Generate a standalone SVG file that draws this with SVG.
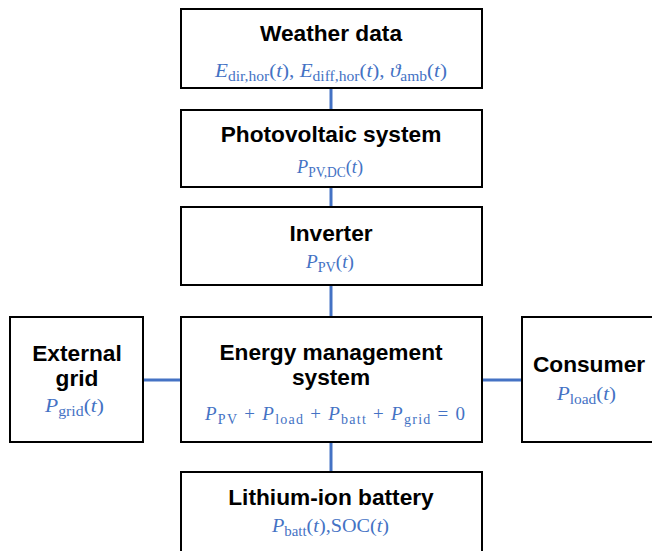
<svg xmlns="http://www.w3.org/2000/svg" width="652" height="551" viewBox="0 0 652 551">
<style>
.box{fill:#fff;stroke:#000;stroke-width:2}
.t{font-family:"Liberation Sans",Arial,sans-serif;font-weight:bold;font-size:22.7px;fill:#000;text-anchor:middle}
.m{font-family:"Liberation Serif","DejaVu Serif",serif;font-size:19px;fill:#4472C4;text-anchor:middle}
.i{font-style:italic}
.s{font-size:14px}
.c{stroke:#4472C4;stroke-width:3;fill:none}
</style>
<rect width="652" height="551" fill="#fff"/>
<g id="connectors">
<line class="c" x1="331" y1="88" x2="331" y2="110"/>
<line class="c" x1="331" y1="187" x2="331" y2="207"/>
<line class="c" x1="331" y1="285" x2="331" y2="317"/>
<line class="c" x1="331" y1="442" x2="331" y2="472"/>
<line class="c" x1="143" y1="380" x2="181" y2="380"/>
<line class="c" x1="482" y1="380" x2="522" y2="380"/>
</g>
<g id="weather">
<rect class="box" x="181" y="9" width="301" height="79"/>
<text class="t" x="331" y="41">Weather data</text>
<text class="m" x="331" y="77" textLength="232" lengthAdjust="spacingAndGlyphs"><tspan class="i">E</tspan><tspan class="s" dy="4">dir,hor</tspan><tspan dy="-4">(</tspan><tspan class="i">t</tspan>), <tspan class="i">E</tspan><tspan class="s" dy="4">diff,hor</tspan><tspan dy="-4">(</tspan><tspan class="i">t</tspan>), <tspan class="i">ϑ</tspan><tspan class="s" dy="4">amb</tspan><tspan dy="-4">(</tspan><tspan class="i">t</tspan>)</text>
</g>
<g id="pv">
<rect class="box" x="181" y="110" width="301" height="77"/>
<text class="t" x="331" y="142">Photovoltaic system</text>
<text class="m" x="330" y="173" textLength="66" lengthAdjust="spacingAndGlyphs"><tspan class="i">P</tspan><tspan class="s" dy="4">PV,DC</tspan><tspan dy="-4">(</tspan><tspan class="i">t</tspan>)</text>
</g>
<g id="inverter">
<rect class="box" x="181" y="207" width="301" height="78"/>
<text class="t" x="331" y="241">Inverter</text>
<text class="m" x="330" y="268" textLength="48" lengthAdjust="spacingAndGlyphs"><tspan class="i">P</tspan><tspan class="s" dy="4">PV</tspan><tspan dy="-4">(</tspan><tspan class="i">t</tspan>)</text>
</g>
<g id="ems">
<rect class="box" x="181" y="317" width="301" height="125"/>
<text class="t" x="331" y="360">Energy management</text>
<text class="t" x="331" y="385">system</text>
<text class="m" x="335" y="420" textLength="260" lengthAdjust="spacing"><tspan class="i">P</tspan><tspan class="s" dy="4">PV</tspan><tspan dy="-4">  +  </tspan><tspan class="i">P</tspan><tspan class="s" dy="4">load</tspan><tspan dy="-4">  +  </tspan><tspan class="i">P</tspan><tspan class="s" dy="4">batt</tspan><tspan dy="-4">  +  </tspan><tspan class="i">P</tspan><tspan class="s" dy="4">grid</tspan><tspan dy="-4"> = 0</tspan></text>
</g>
<g id="grid">
<rect class="box" x="10" y="317" width="133" height="125"/>
<text class="t" x="77" y="361">External</text>
<text class="t" x="77" y="386">grid</text>
<text class="m" x="74.5" y="412" textLength="59" lengthAdjust="spacingAndGlyphs"><tspan class="i">P</tspan><tspan class="s" dy="4">grid</tspan><tspan dy="-4">(</tspan><tspan class="i">t</tspan>)</text>
</g>
<g id="consumer">
<rect class="box" x="522" y="317" width="140" height="125"/>
<text class="t" x="589" y="372">Consumer</text>
<text class="m" x="586.5" y="400" textLength="59" lengthAdjust="spacingAndGlyphs"><tspan class="i">P</tspan><tspan class="s" dy="4">load</tspan><tspan dy="-4">(</tspan><tspan class="i">t</tspan>)</text>
</g>
<g id="battery">
<rect class="box" x="181" y="472" width="301" height="90"/>
<text class="t" x="331" y="505">Lithium-ion battery</text>
<text class="m" x="330.5" y="532" textLength="117" lengthAdjust="spacingAndGlyphs"><tspan class="i">P</tspan><tspan class="s" dy="4">batt</tspan><tspan dy="-4">(</tspan><tspan class="i">t</tspan>),SOC(<tspan class="i">t</tspan>)</text>
</g>
</svg>
